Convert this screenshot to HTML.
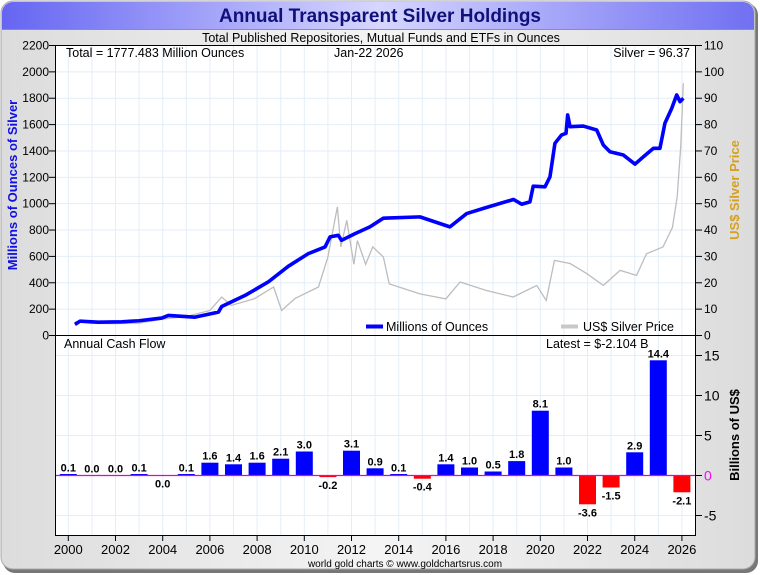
<!DOCTYPE html>
<html><head><meta charset="utf-8"><style>
html,body{margin:0;padding:0;background:#fff;}
svg{display:block;font-family:"Liberation Sans",sans-serif;}
</style></head><body>
<svg id="c" width="760" height="575" viewBox="0 0 760 575" xmlns="http://www.w3.org/2000/svg">
<defs>
<linearGradient id="tg" x1="0" x2="1" y1="0" y2="0"><stop offset="0" stop-color="#6565f2"/><stop offset="0.5" stop-color="#d6d6ff"/><stop offset="1" stop-color="#7070f2"/></linearGradient>
<linearGradient id="bg" x1="0" x2="1" y1="0" y2="0"><stop offset="0" stop-color="#dcdcdc"/><stop offset="0.5" stop-color="#f4f4f4"/><stop offset="1" stop-color="#dcdcdc"/></linearGradient>
</defs>
<rect x="3" y="3" width="755" height="570" rx="12" fill="#777"/>
<rect x="1" y="1" width="754" height="568" rx="12" fill="url(#bg)" stroke="#aaa"/>
<path d="M13,2 H743 A11,11 0 0 1 754,13 V29 H2 V13 A11,11 0 0 1 13,2 Z" fill="url(#tg)"/>
<line x1="2" y1="29.5" x2="754" y2="29.5" stroke="#8888cc"/>
<text x="380" y="22" text-anchor="middle" font-size="19" font-weight="bold" fill="#10107a">Annual Transparent Silver Holdings</text>
<text x="381" y="42" text-anchor="middle" font-size="12.5" fill="#000">Total Published Repositories, Mutual Funds and ETFs in Ounces</text>
<rect x="55.5" y="45.5" width="640" height="490" fill="#fff"/>
<g id="grid"></g>
<g id="marks"></g>
<rect x="55.5" y="45.5" width="640" height="490" fill="none" stroke="#000"/>
<line x1="55.5" y1="335.5" x2="695.5" y2="335.5" stroke="#000"/>
<g id="axes" font-size="12"></g>
<text x="66" y="57" font-size="12.5">Total = 1777.483 Million Ounces</text>
<text x="334" y="57" font-size="12.5">Jan-22  2026</text>
<text x="690" y="57" font-size="12.5" text-anchor="end">Silver = 96.37</text>
<text x="64" y="348" font-size="12.5">Annual Cash Flow</text>
<text x="546" y="348" font-size="12.5">Latest = $-2.104 B</text>
<line x1="366" y1="326.5" x2="383" y2="326.5" stroke="#0000ff" stroke-width="4"/>
<text x="386" y="331" font-size="12.5">Millions of Ounces</text>
<line x1="561" y1="326.5" x2="578" y2="326.5" stroke="#c8c8c8" stroke-width="4"/>
<text x="583" y="331" font-size="12.5">US$ Silver Price</text>
<text transform="translate(17,185) rotate(-90)" text-anchor="middle" font-size="13" font-weight="bold" fill="#1010e0">Millions of Ounces of Silver</text>
<text transform="translate(739,190) rotate(-90)" text-anchor="middle" font-size="13" font-weight="bold" fill="#d4a020">US$ Silver Price</text>
<text transform="translate(739,435) rotate(-90)" text-anchor="middle" font-size="13" font-weight="bold" fill="#000">Billions of US$</text>
<text x="405" y="567" text-anchor="middle" font-size="10" fill="#000">world gold charts © www.goldchartsrus.com</text>
</svg>
<script>
const holdYears=[0.28,0.5,1.27,2.26,3.0,3.96,4.24,5.37,6.36,6.5,7.49,8.47,9.32,10.17,10.88,11.09,11.44,11.58,12.15,12.78,13.35,14.9,16.17,16.88,17.66,18.86,19.21,19.56,19.7,20.2,20.41,20.62,20.9,21.09,21.16,21.26,21.82,22.39,22.67,22.95,23.52,24.01,24.37,24.79,25.07,25.28,25.57,25.78,25.92,26.06];
const holdValues=[84,109,101,104,112,132,152,139,177,220,304,406,525,621,672,748,760,722,773,824,890,900,824,925,968,1032,996,1014,1133,1128,1204,1458,1521,1534,1673,1584,1589,1559,1445,1394,1369,1300,1356,1420,1420,1610,1724,1825,1774,1800];
const silverYears=[0.28,1.0,2.0,3.0,4.0,5.0,6.0,6.5,6.9,7.9,8.7,9.04,9.6,10.6,11.0,11.4,11.55,11.8,12.1,12.25,12.6,12.9,13.35,13.6,14.9,16.0,16.6,17.7,18.85,19.85,20.25,20.6,21.26,21.97,22.67,23.38,24.08,24.5,25.2,25.6,25.8,25.95,26.06];
const silverValues=[5.2,4.6,4.5,4.7,6.2,7.2,9.5,14.6,11.4,14,18.4,9.5,14,18.4,29.8,48.8,33.6,43.7,27,36,27,33.6,29.8,19.6,15.8,13.9,20.3,17.1,14.6,19,13.3,28.5,27.3,23.5,19,24.7,22.8,31,33.6,41,52.6,71.6,95.7];
const flowYears=[2000,2001,2002,2003,2004,2005,2006,2007,2008,2009,2010,2011,2012,2013,2014,2015,2016,2017,2018,2019,2020,2021,2022,2023,2024,2025,2026];
const flowValues=[0.1,0.0,0.0,0.1,-0.01,0.1,1.6,1.4,1.6,2.1,3.0,-0.2,3.1,0.9,0.1,-0.4,1.4,1.0,0.5,1.8,8.1,1.0,-3.6,-1.5,2.9,14.4,-2.1];
const leftTicks=[0,200,400,600,800,1000,1200,1400,1600,1800,2000,2200];
const rightTicks=[0,10,20,30,40,50,60,70,80,90,100,110];
const flowTicks=[-5,0,5,10,15];
const xTicks=[2000,2002,2004,2006,2008,2010,2012,2014,2016,2018,2020,2022,2024,2026];

const NS="http://www.w3.org/2000/svg";
const xs=y=>68.3+(y-2000)*23.6;
const yH=v=>335.5-v*(290/2200);
const yP=v=>335.5-v*(290/110);
const yF=v=>475.5-v*8;
function mk(tag,attrs,parent){const e=document.createElementNS(NS,tag);for(const k in attrs)e.setAttribute(k,attrs[k]);parent.appendChild(e);return e;}
const grid=document.getElementById('grid'),marks=document.getElementById('marks'),axes=document.getElementById('axes');
for(let yr=2000;yr<=2026;yr++){const l=mk('line',{x1:xs(yr),x2:xs(yr),y1:46,y2:535,stroke:'#e2eef8'},grid);

}
leftTicks.forEach(t=>{if(t>0&&t<2200){const l=mk('line',{x1:56,x2:695,y1:yH(t),y2:yH(t),stroke:'#e2eef8'},grid);

}
const tk=mk('line',{x1:49,x2:56,y1:yH(t),y2:yH(t),stroke:'#000'},axes);


const tx=mk('text',{x:49,y:yH(t)+4,'text-anchor':'end'},axes);tx.textContent=t;

});
rightTicks.forEach(t=>{const tk=mk('line',{x1:695,x2:702,y1:yP(t),y2:yP(t),stroke:'#000'},axes);


const tx=mk('text',{x:704,y:yP(t)+4},axes);tx.textContent=t;

});
flowTicks.forEach(t=>{if(t!==0){const l=mk('line',{x1:56,x2:695,y1:yF(t),y2:yF(t),stroke:'#e2eef8'},grid);

}
const tk=mk('line',{x1:695,x2:702,y1:yF(t),y2:yF(t),stroke:'#000'},axes);


const tx=mk('text',{x:704,y:yF(t)+5,'font-size':'14',fill:t===0?'#ff00ff':'#000'},axes);tx.textContent=t;

});
xTicks.forEach(t=>{const tk=mk('line',{x1:xs(t),x2:xs(t),y1:535,y2:541,stroke:'#000'},axes);


const tx=mk('text',{x:xs(t),y:554,'text-anchor':'middle','font-size':'13'},axes);tx.textContent=t;

});
const sp=mk('polyline',{points:silverYears.map((y,i)=>xs(2000+y)+','+yP(silverValues[i])).join(' '),fill:'none',stroke:'#bdbdbd','stroke-width':1.3},marks);


const hl=mk('polyline',{points:holdYears.map((y,i)=>xs(2000+y)+','+yH(holdValues[i])).join(' '),fill:'none',stroke:'#0000ff','stroke-width':3.6,'stroke-linejoin':'round'},marks);


flowYears.forEach((yr,i)=>{const v=flowValues[i];const y0=yF(0),y1=yF(v);
const h=Math.abs(v)<0.05?0:Math.max(Math.abs(y1-y0),1.5);
const b=mk('rect',{x:xs(yr)-8.5,y:v>=0?y0-h:y0,width:17,height:h,fill:v>=0?'#0000ff':'#ff0000'},marks);


const lab=mk('text',{x:xs(yr),y:v>=0?Math.min(y0,y1)-3:Math.max(y0,y1)+12,'text-anchor':'middle','font-size':'11','font-weight':'bold'},marks);
lab.textContent=(Math.abs(v)<0.05?'0.0':v.toFixed(1));

});
const z=mk('line',{x1:56,x2:695,y1:yF(0),y2:yF(0),stroke:'#e000e0','stroke-width':1.2},marks);


</script>
</body></html>
